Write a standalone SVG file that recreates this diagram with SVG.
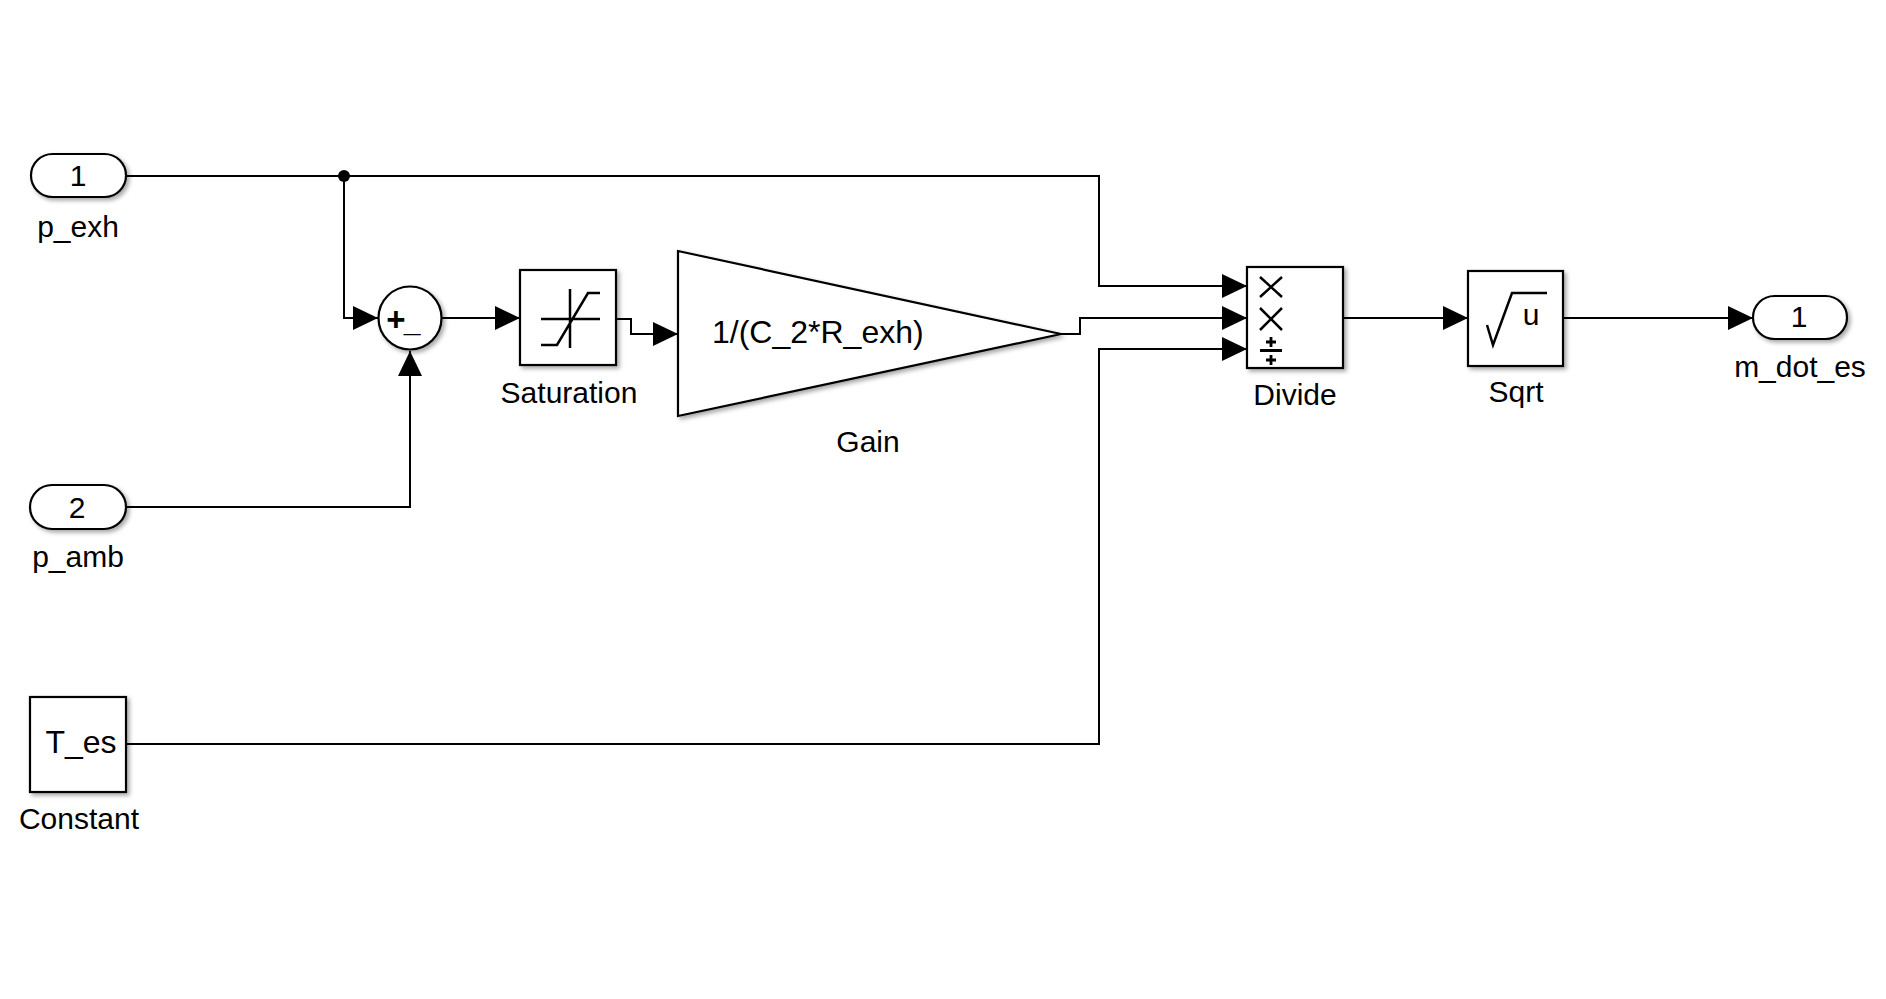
<svg xmlns="http://www.w3.org/2000/svg" width="1886" height="999" viewBox="0 0 1886 999">
<defs>
<filter id="sh" x="-20%" y="-20%" width="150%" height="150%">
<feDropShadow dx="2.5" dy="2.5" stdDeviation="2" flood-color="#000" flood-opacity="0.35"/>
</filter>
<marker id="arr" markerUnits="userSpaceOnUse" markerWidth="26" markerHeight="26" refX="25" refY="12" orient="auto" viewBox="0 0 26 26">
<path d="M0,0 L25,12 L0,24 z" fill="#000"/>
</marker>
</defs>
<style>
.blk{fill:#fff;stroke:#000;stroke-width:2.2;filter:url(#sh)}
.ic{fill:none;stroke:#000;stroke-width:2.5}
.ln{fill:none;stroke:#000;stroke-width:2}
.lbl{font-family:"Liberation Sans",Arial,sans-serif;font-size:30px;fill:#000;text-anchor:middle}
.num{font-family:"Liberation Sans",Arial,sans-serif;font-size:30px;fill:#000;text-anchor:middle}
</style>
<rect width="1886" height="999" fill="#fff"/>
<g id="connectors">
<path class="ln" d="M126,176 H1099 V286 H1247" marker-end="url(#arr)"/>
<path class="ln" d="M344,176 V318 H378" marker-end="url(#arr)"/>
<path class="ln" d="M126,507 H410 V351" marker-end="url(#arr)"/>
<path class="ln" d="M442,318 H520" marker-end="url(#arr)"/>
<path class="ln" d="M616,319 H631 V334 H678" marker-end="url(#arr)"/>
<path class="ln" d="M1061,334 H1080 V318 H1247" marker-end="url(#arr)"/>
<path class="ln" d="M126,744 H1099 V349 H1247" marker-end="url(#arr)"/>
<path class="ln" d="M1343,318 H1468" marker-end="url(#arr)"/>
<path class="ln" d="M1563,318 H1753" marker-end="url(#arr)"/>
<circle cx="344" cy="176" r="6" fill="#000"/>
</g>
<g id="inport1">
<rect class="blk" x="31" y="154" width="95" height="43" rx="21.5"/>
<text class="num" x="78" y="186">1</text>
<text class="lbl" x="78" y="237">p_exh</text>
</g>
<g id="inport2">
<rect class="blk" x="30" y="485" width="96" height="44" rx="22"/>
<text class="num" x="77" y="518">2</text>
<text class="lbl" x="78" y="567">p_amb</text>
</g>
<g id="constant">
<rect class="blk" x="30" y="697" width="96" height="95"/>
<text class="lbl" x="81" y="753" style="font-size:32px">T_es</text>
<text class="lbl" x="79" y="829">Constant</text>
</g>
<g id="sum">
<circle class="blk" cx="410" cy="318" r="31.5"/>
<text x="396" y="331" style="font-family:'Liberation Sans',Arial,sans-serif;font-size:33px;font-weight:bold;text-anchor:middle">+</text>
<text x="412" y="332" style="font-family:'Liberation Sans',Arial,sans-serif;font-size:30px;font-weight:bold;text-anchor:middle">_</text>
</g>
<g id="saturation">
<rect class="blk" x="520" y="270" width="96" height="95"/>
<path class="ic" d="M570,289 V348 M541,319 H600 M541,345 H557 L588,293 H600"/>
<text class="lbl" x="569" y="403">Saturation</text>
</g>
<g id="gain">
<polygon class="blk" points="678,251 1061,334 678,416"/>
<text x="712" y="343" style="font-family:'Liberation Sans',Arial,sans-serif;font-size:32px">1/(C_2*R_exh)</text>
<text class="lbl" x="868" y="452">Gain</text>
</g>
<g id="divide">
<rect class="blk" x="1247" y="267" width="96" height="101"/>
<path class="ic" d="M1260,277 L1282,297 M1282,277 L1260,297 M1260,308 L1282,330 M1282,308 L1260,330"/>
<path class="ic" style="stroke-width:2.8" d="M1271,337 V347 M1266,342 H1276 M1260,350.5 H1282 M1271,355 V365 M1266,360 H1276"/>
<text class="lbl" x="1295" y="405">Divide</text>
</g>
<g id="sqrt">
<rect class="blk" x="1468" y="271" width="95" height="95"/>
<path class="ic" d="M1487,325 L1493,345 L1512,293 H1547"/>
<text x="1531" y="325" style="font-family:'Liberation Sans',Arial,sans-serif;font-size:30px;text-anchor:middle">u</text>
<text class="lbl" x="1516" y="402">Sqrt</text>
</g>
<g id="outport1">
<rect class="blk" x="1753" y="296" width="94" height="43" rx="21.5"/>
<text class="num" x="1799" y="327">1</text>
<text class="lbl" x="1800" y="377">m_dot_es</text>
</g>
</svg>
